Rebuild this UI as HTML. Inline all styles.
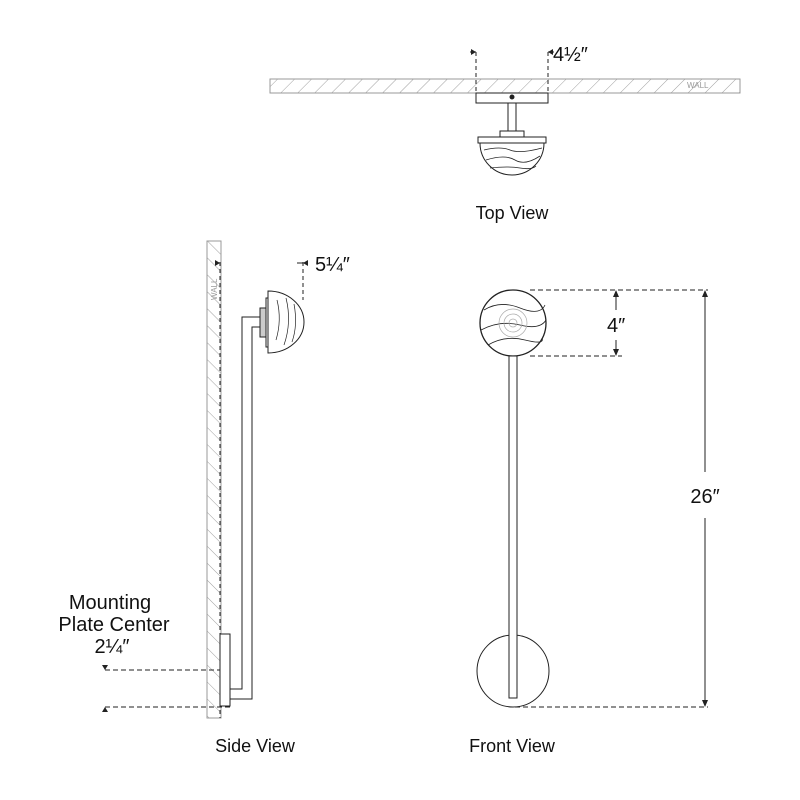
<!DOCTYPE html>
<html><head><style>body{margin:0;background:#fff}svg{display:block}text{font-family:"Liberation Sans",sans-serif;fill:#111}</style></head>
<body>
<svg width="800" height="800" viewBox="0 0 800 800" xmlns="http://www.w3.org/2000/svg">
<defs>
<pattern id="h" width="12" height="12" patternUnits="userSpaceOnUse" patternTransform="rotate(45)"><line x1="0" y1="0" x2="0" y2="12" stroke="#888" stroke-width="0.8"/></pattern>
<pattern id="h2" width="12" height="12" patternUnits="userSpaceOnUse" patternTransform="rotate(-45)"><line x1="0" y1="0" x2="0" y2="12" stroke="#888" stroke-width="0.8"/></pattern>
</defs>
<g fill="none" stroke="#222" stroke-width="1">
<!-- TOP VIEW -->
<rect x="270" y="79" width="470" height="14" fill="url(#h)" stroke="#999"/>
<rect x="476" y="93" width="72" height="10" fill="#fff"/>
<circle cx="512" cy="97" r="2" fill="#222"/>
<rect x="508" y="103" width="8" height="28" fill="#fff"/>
<rect x="500" y="131" width="24" height="6" fill="#fff"/>
<rect x="478" y="137" width="68" height="6" fill="#fff"/>
<path d="M480 143 A32 32 0 0 0 544 143 Z" fill="#fff"/>
<path d="M484 150 Q500 146 510 150 T542 148 M486 160 Q505 154 515 160 T540 156 M490 168 Q508 166 520 168 T536 166" stroke-width="0.8"/>
<g stroke-dasharray="4 3"><line x1="476" y1="52" x2="476" y2="93"/><line x1="548" y1="52" x2="548" y2="93"/></g>
<line x1="470" y1="52" x2="476" y2="52"/><line x1="548" y1="52" x2="554" y2="52"/>
<!-- SIDE VIEW -->
<rect x="207" y="241" width="14" height="477" fill="url(#h2)" stroke="#999"/>
<line x1="220" y1="262" x2="220" y2="718" stroke-dasharray="4 3"/>
<rect x="220" y="634" width="10" height="72" fill="#fff"/>
<path d="M260 317 H242 V689 H230 M260 327 H252 V699 H230"/>
<rect x="260" y="308" width="6" height="29" fill="#ccc"/>
<rect x="266" y="298" width="6" height="49" fill="#fff"/>
<path d="M268 291 A36 31 0 0 1 268 353 Z" fill="#fff"/>
<path d="M277 300 Q282 320 276 340 M286 298 Q292 322 284 345 M294 304 Q298 325 292 342" stroke-width="0.7"/>
<line x1="303" y1="262" x2="303" y2="300" stroke-dasharray="4 3"/>
<line x1="297" y1="263" x2="303" y2="263"/>
<g stroke-dasharray="5 3"><line x1="105" y1="670" x2="220" y2="670"/><line x1="105" y1="707" x2="230" y2="707"/></g>
<!-- FRONT VIEW -->
<circle cx="513" cy="323" r="33" fill="#fff" stroke-width="1.3"/>
<path d="M484 310 Q500 300 520 308 T545 305 M481 330 Q500 320 520 325 T546 320 M488 345 Q505 335 525 340 T542 338" stroke-width="0.8"/>
<g stroke="#aaa" stroke-width="0.7"><circle cx="513" cy="323" r="14"/><circle cx="513" cy="323" r="9"/><circle cx="513" cy="323" r="4"/></g>
<circle cx="513" cy="671" r="36"/>
<rect x="509" y="356" width="8" height="342" fill="#fff"/>
<g stroke-dasharray="5 3"><line x1="530" y1="290" x2="708" y2="290"/><line x1="530" y1="356" x2="622" y2="356"/><line x1="515" y1="707" x2="708" y2="707"/></g>
<line x1="616" y1="292" x2="616" y2="310"/><line x1="616" y1="340" x2="616" y2="354"/>
<line x1="705" y1="292" x2="705" y2="472"/><line x1="705" y1="518" x2="705" y2="705"/>
</g>
<g fill="#222">
<path d="M616 290 l-3 7 h6z M616 356 l-3 -7 h6z M705 290 l-3 7 h6z M705 707 l-3 -7 h6z"/>
<path d="M476 52 l-5 -3 v6z M548 52 l5 -3 v6z M220 263 l-5 -3 v6z M303 263 l5 -3 v6z M105 670 l-3 -5 h6z M105 707 l-3 5 h6z"/>
</g>
<text x="687" y="88" font-size="8" style="fill:#999">WALL</text>
<text transform="translate(217 300) rotate(-90)" font-size="8" style="fill:#999">WALL</text>
<text x="553" y="61" font-size="20">4½″</text>
<text x="315" y="271" font-size="20">5¼″</text>
<text x="607" y="332" font-size="20">4″</text>
<text x="705" y="503" font-size="20" text-anchor="middle">26″</text>
<text x="512" y="219" font-size="18" text-anchor="middle">Top View</text>
<text x="255" y="752" font-size="18" text-anchor="middle">Side View</text>
<text x="512" y="752" font-size="18" text-anchor="middle">Front View</text>
<text x="110" y="609" font-size="20" text-anchor="middle">Mounting</text>
<text x="114" y="631" font-size="20" text-anchor="middle">Plate Center</text>
<text x="112" y="653" font-size="20" text-anchor="middle">2¼″</text>
</svg>
</body></html>
